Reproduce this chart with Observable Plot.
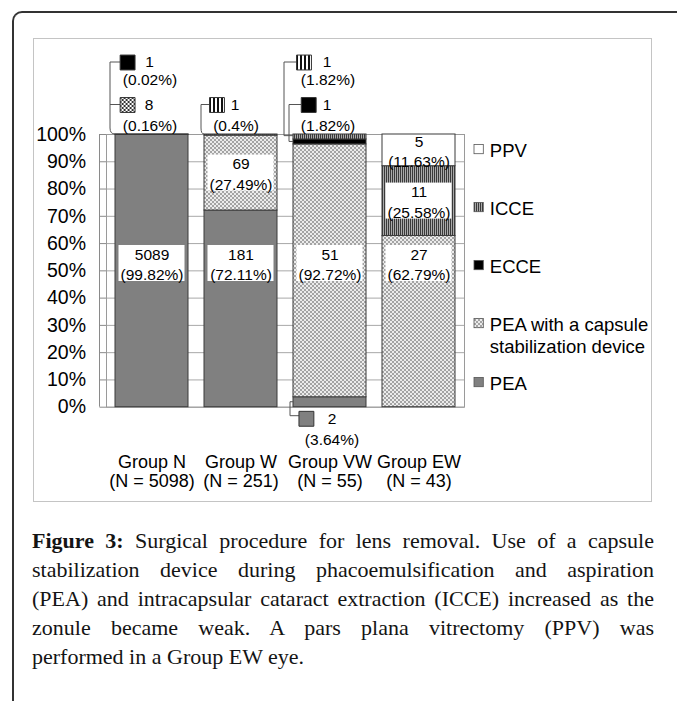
<!DOCTYPE html>
<html>
<head>
<meta charset="utf-8">
<script src="https://cdn.jsdelivr.net/npm/d3@7"></script>
<script src="https://cdn.jsdelivr.net/npm/@observablehq/plot@0.6"></script>
<style>
html, body { margin: 0; padding: 0; background: #fff; width: 677px; height: 701px; overflow: hidden; }
#frame { position: absolute; left: 12px; top: 11px; width: 740px; height: 780px;
  border-left: 2px solid #333; border-top: 2px solid #333; border-top-left-radius: 10px; }
#box { position: absolute; left: 33px; top: 38px; width: 617px; height: 462px; border: 1px solid #c4c4c4; background: #fff; }
#box svg { display: block; }
#caption { position: absolute; left: 32px; top: 526px; width: 622px;
  font-family: "Liberation Serif", "Times New Roman", serif; font-size: 22px; line-height: 29px; color: #141414; }
#caption div { text-align: justify; text-align-last: justify; }
#caption div.last { text-align-last: left; }
</style>
</head>
<body>
<div id="frame"></div>
<div id="box"></div>
<div id="caption">
  <div><b>Figure 3:</b> Surgical procedure for lens removal. Use of a capsule</div>
  <div>stabilization device during phacoemulsification and aspiration</div>
  <div>(PEA) and intracapsular cataract extraction (ICCE) increased as the</div>
  <div>zonule became weak. A pars plana vitrectomy (PPV) was</div>
  <div class="last">performed in a Group EW eye.</div>
</div>
<script>
// ---------- DATA ----------
const groups = ["Group N", "Group W", "Group VW", "Group EW"];
const groupSizes = [5098, 251, 55, 43];
const categories = ["PEA", "PEA with a capsule stabilization device", "ECCE", "ICCE", "PPV"];
const legendLabels = ["PEA", "PEA with a capsule\nstabilization device", "ECCE", "ICCE", "PPV"];
const peaCounts = [5089, 181, 2, 0];
const deviceCounts = [8, 69, 51, 27];
const ecceCounts = [1, 0, 1, 0];
const icceCounts = [0, 1, 1, 11];
const ppvCounts = [0, 0, 0, 5];
const peaPercents = [99.82, 72.11, 3.64, 0];
const devicePercents = [0.16, 27.49, 92.72, 62.79];
const eccePercents = [0.02, 0, 1.82, 0];
const iccePercents = [0, 0.4, 1.82, 25.58];
const ppvPercents = [0, 0, 0, 11.63];
const yTicks = [0, 10, 20, 30, 40, 50, 60, 70, 80, 90, 100];

// ---------- BUILD TABLE ----------
const countsByCat = [peaCounts, deviceCounts, ecceCounts, icceCounts, ppvCounts];
const pctsByCat = [peaPercents, devicePercents, eccePercents, iccePercents, ppvPercents];
const fills = ["#808080", "url(#pDev)", "#000000", "url(#pIcce)", "#ffffff"];
const rows = [];
groups.forEach((g, i) => {
  let acc = 0;
  categories.forEach((c, j) => {
    const n = countsByCat[j][i], pct = pctsByCat[j][i];
    if (n > 0) { rows.push({group: g, cat: c, n, pct, lo: acc, hi: acc + pct}); acc += pct; }
  });
});
const find = (g, c) => rows.find(r => r.group === g && r.cat === c);

// inside labels
const LABEL_LEVEL = 52.7;
const insideLabels = rows.filter(r => r.pct >= 10).map(r => ({
  ...r, ly: (r.lo <= LABEL_LEVEL && r.hi >= LABEL_LEVEL) ? LABEL_LEVEL : (r.lo + r.hi) / 2
}));

// ---------- LAYOUT (not data) ----------
const W = 617, H = 462, mL = 72, mR = 187, mT = 95, mB = 94.3;
const FONT = "'Liberation Sans', Arial, Helvetica, sans-serif";
const rowDy = {
  1: {sq: -72, num: -72, pct: -54, y: 100},
  2: {sq: -29.5, num: -29.5, pct: -8.5, y: 100},
  b: {sq: 11.6, num: 11.6, pct: 33.3, y: 0}
};
const callouts = [
  {group: "Group N", cat: "ECCE", row: 1, sq: -24.4, num: -2.5, pct: -2, fill: "#000"},
  {group: "Group N", cat: categories[1], row: 2, sq: -24.4, num: -3, pct: -2, fill: "url(#pDevBig)"},
  {group: "Group W", cat: "ICCE", row: 2, sq: -24, num: -6, pct: -5, fill: "url(#pIcceBig)"},
  {group: "Group VW", cat: "ICCE", row: 1, sq: -26, num: -3, pct: -2, fill: "url(#pIcceBig)"},
  {group: "Group VW", cat: "ECCE", row: 2, sq: -21.3, num: -3, pct: -2, fill: "#000"},
  {group: "Group VW", cat: "PEA", row: "b", sq: -23.6, num: 2, pct: 2, fill: "#808080"}
];
const legendDy = [248, 200, 131, 73, 15];

function defsMark() {
  const g = d3.create("svg:g");
  const defs = g.append("defs");
  function checker(id, cell, a, b) {
    const p = defs.append("pattern").attr("id", id).attr("patternUnits", "userSpaceOnUse")
      .attr("width", cell * 2).attr("height", cell * 2);
    p.append("rect").attr("width", cell * 2).attr("height", cell * 2).attr("fill", b);
    p.append("rect").attr("width", cell).attr("height", cell).attr("fill", a);
    p.append("rect").attr("x", cell).attr("y", cell).attr("width", cell).attr("height", cell).attr("fill", a);
  }
  function stripes(id, w1, w2, a, b) {
    const p = defs.append("pattern").attr("id", id).attr("patternUnits", "userSpaceOnUse")
      .attr("width", w1 + w2).attr("height", 4);
    p.append("rect").attr("width", w1 + w2).attr("height", 4).attr("fill", b);
    p.append("rect").attr("width", w1).attr("height", 4).attr("fill", a);
  }
  checker("pDev", 2, "#a4a4a4", "#ececec");
  checker("pDevBig", 2, "#333333", "#ffffff");
  stripes("pIcce", 1, 1, "#3a3a3a", "#a9a9a9");
  stripes("pIcceBig", 2, 2, "#111111", "#ffffff");
  return g.node();
}

function overlayMark(index, scales, values, dim) {
  const sx = scales.x, sy = scales.y;
  const bw = sx.bandwidth ? sx.bandwidth() : 73.8;
  const g = d3.create("svg:g");
  // y axis line
  g.append("line").attr("x1", mL - 6.5).attr("x2", mL - 6.5).attr("y1", sy(100)).attr("y2", sy(0))
    .attr("stroke", "#8a8a8a");
  // label boxes
  insideLabels.filter(d => d.cat !== "PPV").forEach(d => {
    g.append("rect").attr("x", sx(d.group) + bw / 2 - 33).attr("y", sy(d.ly) - 18)
      .attr("width", 66).attr("height", 36).attr("fill", "#fff");
  });
  // connectors
  const c = g.append("g").attr("fill", "none").attr("stroke", "#555").attr("stroke-width", 1);
  const y100 = sy(100), y0 = sy(0);
  let bl = sx("Group N");
  c.append("path").attr("d", `M${bl + 5},${y100 - 72}H${bl - 5}V${y100 - 6}Q${bl - 5},${y100} ${bl},${y100}`);
  c.append("path").attr("d", `M${bl - 5},${y100 - 29.5}H${bl + 5}`);
  bl = sx("Group W");
  c.append("path").attr("d", `M${bl + 5.5},${y100 - 29.5}H${bl - 3}V${y100 - 6}Q${bl - 3},${y100} ${bl},${y100}`);
  bl = sx("Group VW");
  c.append("path").attr("d", `M${bl + 3.5},${y100 - 72}H${bl - 9}V${sy(99.4)}H${bl}`);
  c.append("path").attr("d", `M${bl + 8},${y100 - 29.5}H${bl - 4}V${sy(97.27)}H${bl}`);
  c.append("path").attr("d", `M${bl},${sy(1.82)}H${bl - 3}V${y0 + 9}H${bl + 6}`);
  // legend swatches
  const lx = W - mR + 10;
  categories.forEach((cat, j) => {
    const cy = mT + legendDy[j] + (j === 1 ? -11 : 0);
    g.append("rect").attr("x", lx).attr("y", cy - 4.6).attr("width", 9.3).attr("height", 9.3)
      .attr("fill", fills[j]).attr("stroke", "#555").attr("stroke-width", 0.8);
  });
  return g.node();
}

const calloutMarks = callouts.flatMap(co => {
  const r = find(co.group, co.cat);
  const rd = rowDy[co.row];
  const base = {x: "group", y: () => rd.y};
  return [
    Plot.dot([r], {...base, dx: co.sq, dy: rd.sq, symbol: "square", r: 8.4, fill: co.fill, stroke: "#333", strokeWidth: 1}),
    Plot.text([r], {...base, dx: co.num, dy: rd.num, text: d => String(d.n), fontSize: 15.5, fill: "#000"}),
    Plot.text([r], {...base, dx: co.pct, dy: rd.pct, text: d => `(${d.pct}%)`, fontSize: 15.5, fill: "#000"})
  ];
});

const legendMarks = legendLabels.map((lab, j) => Plot.text([lab], {
  frameAnchor: "top-right", dx: 25.3, dy: legendDy[j], text: d => d,
  textAnchor: "start", lineAnchor: "middle", fontSize: 18.5, lineHeight: 1.19, fill: "#000"
}));

const chart = Plot.plot({
  width: W, height: H,
  marginLeft: mL, marginRight: mR, marginTop: mT, marginBottom: mB,
  style: {fontFamily: FONT, background: "#fff", overflow: "visible", color: "#000"},
  x: {domain: groups, paddingInner: 0.18, paddingOuter: 0.08, axis: null, label: null},
  y: {domain: [0, 100], axis: null, label: null},
  color: {type: "ordinal", domain: categories, range: fills},
  marks: [
    defsMark,
    Plot.gridY({ticks: yTicks, stroke: "#a8a8a8", strokeOpacity: 1}),
    Plot.frame({stroke: "#9a9a9a"}),
    Plot.barY(rows, {x: "group", y: "pct", fill: "cat", z: "cat", order: categories, stroke: "#3a3a3a", strokeWidth: 1}),
    overlayMark,
    Plot.text(insideLabels, {x: "group", y: "ly", text: d => `${d.n}\n(${d.pct}%)`, fontSize: 15.5, lineHeight: 1.33, fill: "#000"}),
    ...calloutMarks,
    ...legendMarks,
    Plot.axisY({ticks: yTicks, tickFormat: d => d + "%", tickSize: 6.5, tickPadding: 14, fontSize: 19.5, stroke: "#8a8a8a", fill: "#000", label: null}),
    Plot.axisX({tickSize: 0, tickPadding: 47, fontSize: 18, lineHeight: 1.08, fill: "#000", label: null,
      tickFormat: d => `${d}\n(N = ${groupSizes[groups.indexOf(d)]})`})
  ]
});
document.getElementById("box").appendChild(chart);
</script>
</body>
</html>
